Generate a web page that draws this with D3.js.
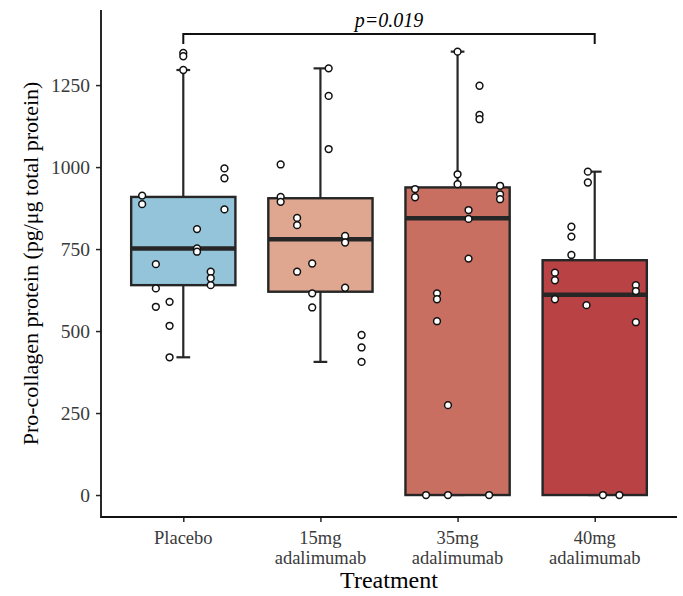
<!DOCTYPE html>
<html>
<head>
<meta charset="utf-8">
<script src="https://cdn.jsdelivr.net/npm/d3@7"></script>
<style>
  html, body { margin: 0; padding: 0; background: #fff; }
  svg { display: block; }
</style>
</head>
<body>
<svg class="procollagen-chart" width="683" height="596"></svg>
<script>
(function ProcollagenChart() {

  'use strict';

  // data
  var categories = ['Placebo', '15mg', '35mg', '40mg'];
  var tickLabels = [['Placebo'], ['15mg', 'adalimumab'], ['35mg', 'adalimumab'], ['40mg', 'adalimumab']];
  var yTicks = [0, 250, 500, 750, 1000, 1250];

  var whiskerLow = [420, 406, 0, 0];
  var boxQ1 = [640, 620, 0, 0];
  var boxMedian = [752, 780, 844, 611];
  var boxQ3 = [909, 905, 938, 716];
  var whiskerHigh = [1296, 1301, 1352, 986];

  var placeboValues = [1348, 1338, 1296, 996, 966, 913, 887, 871, 811, 752, 742, 704, 681, 661, 640, 630, 589, 574, 516, 420];
  var placeboJitter = [0, 0, 0, 0.3, 0.3, -0.3, -0.3, 0.3, 0.1, 0.1, 0.1, -0.2, 0.2, 0.2, 0.2, -0.2, -0.1, -0.2, -0.1, -0.1];

  var mg15Values = [1301, 1217, 1055, 1008, 909, 894, 845, 823, 790, 770, 706, 681, 632, 615, 572, 488, 450, 406];
  var mg15Jitter = [0.06, 0.06, 0.06, -0.29, -0.29, -0.29, -0.17, -0.17, 0.18, 0.18, -0.06, -0.17, 0.18, -0.06, -0.06, 0.3, 0.3, 0.3];

  var mg35Values = [1352, 1248, 1159, 1146, 978, 948, 933, 908, 943, 917, 902, 869, 842, 721, 615, 597, 530, 274, 0, 0, 0];
  var mg35Jitter = [0, 0.16, 0.16, 0.16, 0, 0, -0.31, -0.31, 0.31, 0.31, 0.31, 0.08, 0.08, 0.08, -0.15, -0.15, -0.15, -0.07, -0.23, -0.07, 0.23];

  var mg40Values = [986, 953, 818, 788, 732, 678, 655, 597, 640, 622, 579, 527, 0, 0];
  var mg40Jitter = [-0.05, -0.05, -0.17, -0.17, -0.17, -0.29, -0.29, -0.29, 0.3, 0.3, -0.06, 0.3, 0.06, 0.18];

  var pLabel = 'p=0.019';

  // vars
  var _svg = d3.select('.procollagen-chart'),
    _fills = ['#93c4da', '#dfa78f', '#c86f61', '#b84244'],
    _ink = '#262626',
    _font = '"Liberation Serif", "Times New Roman", serif',
    _tickSize = '18.5px',
    _left = 101,
    _right = 677,
    _top = 10,
    _bottom = 517,
    _boxWidth = 0.76,
    _capWidth = 0.1;

  var x = d3.scaleLinear().domain([0.4, 4.6]).range([_left, _right]);
  var y = d3.scaleLinear().domain([-67, 1479]).range([_bottom, _top]);

  render();

  function render() {
    var points = [placeboValues, mg15Values, mg35Values, mg40Values];
    var jitters = [placeboJitter, mg15Jitter, mg35Jitter, mg40Jitter];

    // axes
    var yAxis = d3.axisLeft(y).tickValues(yTicks).tickFormat(d3.format('d')).tickSize(5).tickPadding(6);
    var gy = _svg.append('g').attr('transform', 'translate(' + _left + ',0)').call(yAxis);
    gy.select('.domain').remove();
    gy.selectAll('.tick line').attr('stroke', _ink).attr('stroke-width', 1.5);
    gy.selectAll('.tick text')
      .attr('fill', '#3a3a3a')
      .attr('dy', '0.34em')
      .style('font-family', _font)
      .style('font-size', '19.5px');

    var xAxis = d3.axisBottom(x).tickValues([1, 2, 3, 4]).tickSize(5).tickFormat('');
    var gx = _svg.append('g').attr('transform', 'translate(0,' + _bottom + ')').call(xAxis);
    gx.select('.domain').remove();
    gx.selectAll('.tick line').attr('stroke', _ink).attr('stroke-width', 1.5);

    _svg.append('path')
      .attr('d', 'M' + _left + ',' + _top + 'V' + _bottom + 'H' + _right)
      .attr('fill', 'none')
      .attr('stroke', '#111')
      .attr('stroke-width', 1.8);

    // category labels
    tickLabels.forEach(function drawLabel(lines, i) {
      var t = _svg.append('text')
        .attr('x', x(i + 1))
        .attr('y', 544)
        .attr('text-anchor', 'middle')
        .attr('fill', '#3a3a3a')
        .style('font-family', _font)
        .style('font-size', _tickSize);
      lines.forEach(function (line, j) {
        t.append('tspan').attr('x', x(i + 1)).attr('dy', j === 0 ? 0 : 20).text(line);
      });
    });

    // titles
    _svg.append('text')
      .attr('x', (_left + _right) / 2)
      .attr('y', 588)
      .attr('text-anchor', 'middle')
      .style('font-family', _font)
      .style('font-size', '24px')
      .text('Treatment');

    _svg.append('text')
      .attr('transform', 'translate(38,' + ((_top + _bottom) / 2) + ') rotate(-90)')
      .attr('text-anchor', 'middle')
      .style('font-family', _font)
      .style('font-size', '22px')
      .text('Pro-collagen protein (pg/\u03bcg total protein)');

    // boxes
    categories.forEach(function drawBox(c, i) {
      var cx = i + 1;
      var g = _svg.append('g');

      g.append('line')
        .attr('x1', x(cx)).attr('x2', x(cx))
        .attr('y1', y(whiskerHigh[i])).attr('y2', y(whiskerLow[i]))
        .attr('stroke', _ink).attr('stroke-width', 2.2);

      [whiskerHigh[i], whiskerLow[i]].forEach(function (v) {
        g.append('line')
          .attr('x1', x(cx - _capWidth / 2)).attr('x2', x(cx + _capWidth / 2))
          .attr('y1', y(v)).attr('y2', y(v))
          .attr('stroke', _ink).attr('stroke-width', 2.2);
      });

      g.append('rect')
        .attr('x', x(cx - _boxWidth / 2))
        .attr('width', x(cx + _boxWidth / 2) - x(cx - _boxWidth / 2))
        .attr('y', y(boxQ3[i]))
        .attr('height', y(boxQ1[i]) - y(boxQ3[i]))
        .attr('fill', _fills[i])
        .attr('stroke', _ink)
        .attr('stroke-width', 2.4);

      g.append('line')
        .attr('x1', x(cx - _boxWidth / 2)).attr('x2', x(cx + _boxWidth / 2))
        .attr('y1', y(boxMedian[i])).attr('y2', y(boxMedian[i]))
        .attr('stroke', _ink).attr('stroke-width', 4.5);
    });

    // jittered points
    points.forEach(function drawPoints(values, i) {
      _svg.append('g').selectAll('circle')
        .data(values)
        .enter()
        .append('circle')
        .attr('cx', function (d, j) { return x(i + 1 + jitters[i][j]); })
        .attr('cy', function (d) { return y(d); })
        .attr('r', 3.4)
        .attr('fill', '#fff')
        .attr('stroke', '#111')
        .attr('stroke-width', 1.5);
    });

    // significance bracket
    var by = 34;
    _svg.append('path')
      .attr('d', 'M' + x(1) + ',' + (by + 10) + 'V' + by + 'H' + x(4) + 'V' + (by + 10))
      .attr('fill', 'none')
      .attr('stroke', '#111')
      .attr('stroke-width', 2);

    _svg.append('text')
      .attr('x', (x(1) + x(4)) / 2)
      .attr('y', by - 7)
      .attr('text-anchor', 'middle')
      .style('font-family', _font)
      .style('font-style', 'italic')
      .style('font-size', '20px')
      .text(pLabel);
  }

})();
</script>
</body>
</html>
